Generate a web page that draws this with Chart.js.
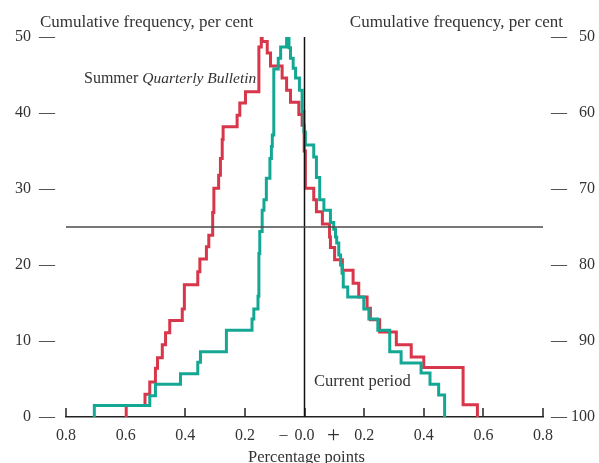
<!DOCTYPE html>
<html lang="en">
  <head>
    <meta charset="UTF-8" />
    <title>Cumulative frequency</title>
    <script src="https://cdn.jsdelivr.net/npm/chart.js"></script>
    <style>
      html,
      body {
        margin: 0;
        padding: 0;
        background: #fff;
      }
      .chart-box {
        width: 599px;
        height: 463px;
      }
    </style>
  </head>
  <body>
    <div class="chart-box">
      <canvas id="myChart" width="599" height="463"></canvas>
    </div>
    <script>
      // Summer Quarterly Bulletin: steps in percentage points, cumulative frequency in per cent
      const summerUpX = [-0.598, -0.598, -0.535, -0.519, -0.5, -0.493, -0.477, -0.466, -0.452, -0.41, -0.403, -0.358, -0.351, -0.329, -0.321, -0.308, -0.304, -0.288, -0.282, -0.276, -0.273, -0.226, -0.217, -0.198, -0.153, -0.145];
      const summerUpF = [0, 1.5, 3.0, 4.6, 6.4, 7.8, 9.5, 11.1, 12.7, 14.2, 17.4, 19.1, 20.8, 22.4, 23.9, 26.9, 30.1, 31.8, 34.0, 36.5, 38.2, 39.7, 41.3, 42.8, 48.7, 50];
      const summerDownX = [-0.145, -0.142, -0.125, -0.114, -0.075, -0.06, -0.047, -0.019, -0.008, -0.001, 0.003, 0.031, 0.04, 0.06, 0.084, 0.087, 0.101, 0.127, 0.163, 0.182, 0.21, 0.221, 0.252, 0.308, 0.358, 0.4, 0.532, 0.58];
      const summerDownF = [50, 50.6, 52.1, 53.8, 55.4, 57.0, 58.6, 60.2, 61.6, 65.0, 69.9, 71.4, 73.0, 74.6, 76.3, 77.7, 79.3, 80.7, 82.4, 84.2, 85.7, 87.2, 88.8, 90.5, 92.1, 93.5, 98.4, 100];

      // Current period
      const currentUpX = [-0.705, -0.705, -0.519, -0.5, -0.416, -0.358, -0.349, -0.262, -0.176, -0.17, -0.156, -0.153, -0.15, -0.142, -0.136, -0.128, -0.116, -0.111, -0.108, -0.103, -0.088, -0.08, -0.06];
      const currentUpF = [0, 1.5, 2.8, 4.3, 5.7, 7.2, 8.6, 11.4, 12.9, 14.2, 15.9, 21.5, 24.4, 27.2, 28.6, 31.4, 34.0, 35.6, 37.1, 45.8, 47.2, 48.7, 50];
      const currentDownX = [-0.06, -0.052, -0.047, -0.038, -0.03, -0.017, -0.008, -0.002, 0.003, 0.031, 0.04, 0.051, 0.065, 0.087, 0.098, 0.104, 0.108, 0.115, 0.121, 0.126, 0.13, 0.145, 0.199, 0.216, 0.246, 0.286, 0.324, 0.391, 0.421, 0.45, 0.47];
      const currentDownF = [50, 51.4, 52.8, 54.1, 55.4, 57.0, 59.8, 62.5, 64.2, 65.8, 68.5, 71.4, 72.8, 74.4, 75.3, 76.3, 77.1, 78.7, 80.0, 81.1, 82.9, 84.2, 85.8, 87.1, 88.6, 91.4, 92.9, 94.2, 95.7, 97.1, 100];

      const leftTicks = [0, 10, 20, 30, 40, 50];
      const rightTicks = [50, 60, 70, 80, 90, 100];
      const xTicks = [-0.8, -0.6, -0.4, -0.2, 0, 0.2, 0.4, 0.6, 0.8];
      const medianLevel = 25;

      const RED = "#d8364a";
      const TEAL = "#14a894";
      const INK = "#333";
      const SERIF = "'Liberation Serif', 'DejaVu Serif', serif";

      const toPoints = (xs, ys) => xs.map((x, i) => ({ x: x, y: ys[i] }));

      const stepLine = (xs, ys, color, axis) => ({
        data: toPoints(xs, ys),
        yAxisID: axis,
        borderColor: color,
        borderWidth: 3,
        stepped: true,
        pointRadius: 0,
        fill: false,
      });

      const refLine = (pts, color) => ({
        data: pts,
        yAxisID: "y",
        borderColor: color,
        borderWidth: 1.5,
        pointRadius: 0,
        fill: false,
      });

      // up-ticks on the bottom axis, plus the free text
      const extras = {
        id: "extras",
        beforeDatasetsDraw(chart) {
          const { ctx, chartArea, scales } = chart;
          ctx.save();
          ctx.strokeStyle = "#222";
          ctx.lineWidth = 1.5;
          xTicks.forEach((v) => {
            const px = Math.round(scales.x.getPixelForValue(v));
            ctx.beginPath();
            ctx.moveTo(px, chartArea.bottom);
            ctx.lineTo(px, chartArea.bottom - 9);
            ctx.stroke();
          });
          ctx.restore();
        },
        afterDraw(chart) {
          const { ctx, scales } = chart;
          const x0 = scales.x.getPixelForValue(0);
          ctx.save();
          ctx.fillStyle = INK;
          ctx.textBaseline = "alphabetic";
          ctx.font = "17px " + SERIF;
          ctx.textAlign = "left";
          ctx.fillText("Cumulative frequency, per cent", 40, 27);
          ctx.textAlign = "right";
          ctx.fillText("Cumulative frequency, per cent", 563, 27);

          ctx.font = "16px " + SERIF;
          ctx.textAlign = "left";
          ctx.fillText("Summer ", 84, 83);
          const w = ctx.measureText("Summer ").width;
          ctx.font = "italic 15.5px " + SERIF;
          ctx.fillText("Quarterly Bulletin", 84 + w, 83);

          ctx.font = "16.5px " + SERIF;
          ctx.fillText("Current period", 314, 386);

          ctx.textAlign = "center";
          ctx.fillText("Percentage points", x0 + 2, 462);

          // sign markers either side of the zero label
          ctx.font = "16px " + SERIF;
          ctx.fillText("\u2013", x0 - 21, 439);
          ctx.font = "23px " + SERIF;
          ctx.fillText("+", x0 + 29, 442);
          ctx.restore();
        },
      };

      const ctx = document.getElementById("myChart");
      const myChart = new Chart(ctx, {
        type: "line",
        data: {
          datasets: [
            refLine([{ x: -0.8, y: medianLevel }, { x: 0.8, y: medianLevel }], "#4a4a4a"),
            refLine([{ x: 0, y: 0 }, { x: 0, y: 50 }], "#111"),
            stepLine(currentUpX, currentUpF, TEAL, "y"),
            stepLine(currentDownX, currentDownF, TEAL, "y2"),
            stepLine(summerUpX, summerUpF, RED, "y"),
            stepLine(summerDownX, summerDownF, RED, "y2"),
          ],
        },
        options: {
          responsive: false,
          animation: false,
          events: [],
          layout: { padding: { top: 37, left: 0, right: 0, bottom: 0 } },
          plugins: {
            legend: { display: false },
            tooltip: { enabled: false },
          },
          scales: {
            x: {
              type: "linear",
              min: -0.8,
              max: 0.8,
              afterBuildTicks: (s) => {
                s.ticks = xTicks.map((v) => ({ value: v }));
              },
              afterFit: (s) => {
                s.height = 46;
              },
              grid: { display: false, drawTicks: false },
              border: { display: true, color: "#222", width: 1.5 },
              ticks: {
                padding: 9,
                maxRotation: 0,
                autoSkip: false,
                color: INK,
                font: { family: SERIF, size: 16 },
                callback: (v) => Math.abs(v).toFixed(1),
              },
            },
            y: {
              position: "left",
              min: 0,
              max: 50,
              afterBuildTicks: (s) => {
                s.ticks = leftTicks.map((v) => ({ value: v }));
              },
              afterFit: (s) => {
                s.width = 66;
              },
              grid: { display: false, drawTicks: false },
              border: { display: false },
              ticks: {
                padding: 11,
                color: INK,
                font: { family: SERIF, size: 16 },
                callback: (v) => v + "  \u2014",
              },
            },
            y2: {
              position: "right",
              reverse: true,
              min: 50,
              max: 100,
              afterBuildTicks: (s) => {
                s.ticks = rightTicks.map((v) => ({ value: v }));
              },
              afterFit: (s) => {
                s.width = 56;
              },
              grid: { display: false, drawTicks: false },
              border: { display: false },
              ticks: {
                padding: 8,
                color: INK,
                font: { family: SERIF, size: 16 },
                callback: (v) => "\u2014 " + (v < 100 ? "\u2007" : "") + v,
              },
            },
          },
        },
        plugins: [extras],
      });
    </script>
  </body>
</html>
